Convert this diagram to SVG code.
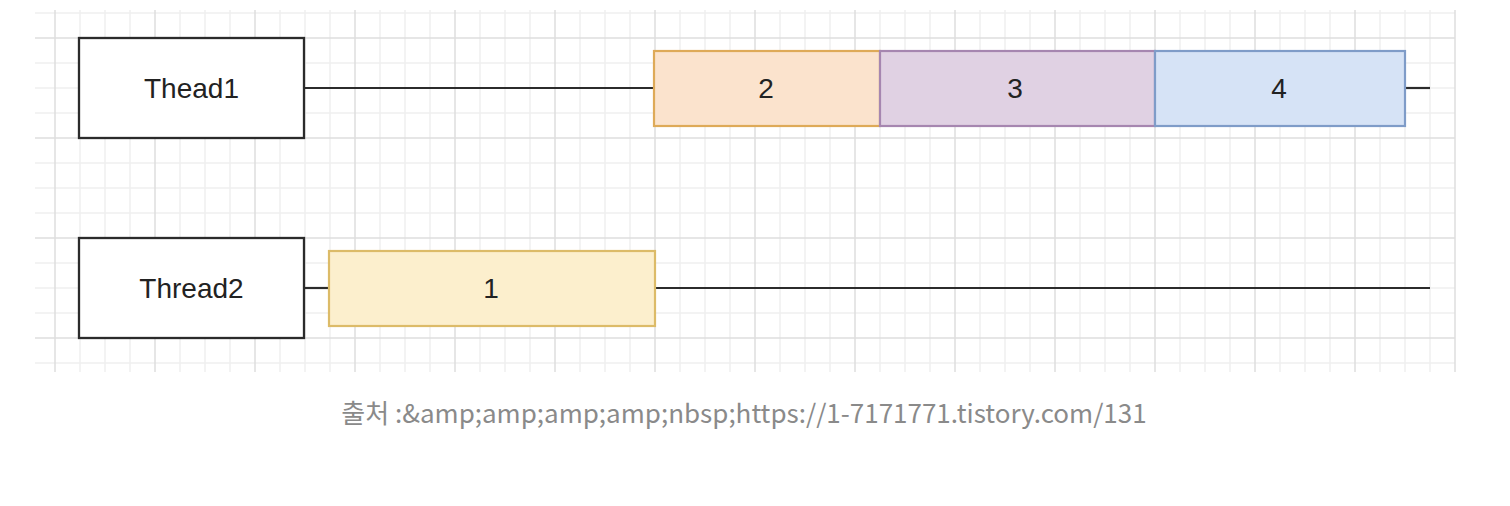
<svg xmlns="http://www.w3.org/2000/svg" width="1510" height="506" viewBox="0 0 1510 506">
<defs>
<style>
.minor{stroke:#f0f0f0;stroke-width:1.5;fill:none}
.major{stroke:#dedede;stroke-width:1.5;fill:none}
.thread{fill:#ffffff;stroke:#2b2b2b;stroke-width:2.3}
.lbl{font-family:"Liberation Sans",Arial,sans-serif;font-size:28px;fill:#222;text-anchor:middle}
.conn{stroke:#2b2b2b;stroke-width:2.2;fill:none}
.cap{font-family:"Noto Sans CJK KR","Noto Sans",sans-serif;font-size:26px;fill:#8a8a8a;text-anchor:middle}
</style>
</defs>
<rect width="1510" height="506" fill="#ffffff"/>
<g id="grid">
<g class="minor">
<path d="M35 13H1455M35 63H1455M35 88H1455M35 113H1455M35 163H1455M35 188H1455M35 213H1455M35 263H1455M35 288H1455M35 313H1455M35 363H1455"/>
<path d="M80 10V372M105 10V372M130 10V372M180 10V372M205 10V372M230 10V372M280 10V372M305 10V372M330 10V372M380 10V372M405 10V372M430 10V372M480 10V372M505 10V372M530 10V372M580 10V372M605 10V372M630 10V372M680 10V372M705 10V372M730 10V372M780 10V372M805 10V372M830 10V372M880 10V372M905 10V372M930 10V372M980 10V372M1005 10V372M1030 10V372M1080 10V372M1105 10V372M1130 10V372M1180 10V372M1205 10V372M1230 10V372M1280 10V372M1305 10V372M1330 10V372M1380 10V372M1405 10V372M1430 10V372"/>
</g>
<g class="major">
<path d="M35 38H1455M35 138H1455M35 238H1455M35 338H1455"/>
<path d="M55 10V372M155 10V372M255 10V372M355 10V372M455 10V372M555 10V372M655 10V372M755 10V372M855 10V372M955 10V372M1055 10V372M1155 10V372M1255 10V372M1355 10V372M1455 10V372"/>
</g>
</g>
<g id="connectors">
<path class="conn" d="M305 88H654"/>
<path class="conn" d="M1405 88H1430"/>
<path class="conn" d="M305 288H329"/>
<path class="conn" d="M655 288H1430"/>
</g>
<g id="thread1">
<rect class="thread" x="79" y="38" width="225" height="100"/>
<text class="lbl" x="191.5" y="98">Thead1</text>
</g>
<g id="thread2">
<rect class="thread" x="79" y="238" width="225" height="100"/>
<text class="lbl" x="191.5" y="298">Thread2</text>
</g>
<g id="task1">
<rect x="329" y="251" width="326" height="75" fill="#fcefcd" stroke="#dcbb68" stroke-width="2.2"/>
<text class="lbl" x="491" y="298">1</text>
</g>
<g id="task2">
<rect x="654" y="51" width="226" height="75" fill="#fbe3cd" stroke="#deaa58" stroke-width="2.2"/>
<text class="lbl" x="766" y="98">2</text>
</g>
<g id="task3">
<rect x="880" y="51" width="275" height="75" fill="#e0d1e3" stroke="#a686b0" stroke-width="2.2"/>
<text class="lbl" x="1015" y="98">3</text>
</g>
<g id="task4">
<rect x="1155" y="51" width="250" height="75" fill="#d6e3f6" stroke="#7f9cc8" stroke-width="2.2"/>
<text class="lbl" x="1279" y="98">4</text>
</g>
<text class="cap" x="744" y="423">출처 :&amp;amp;amp;amp;amp;nbsp;https://1-7171771.tistory.com/131</text>
</svg>
